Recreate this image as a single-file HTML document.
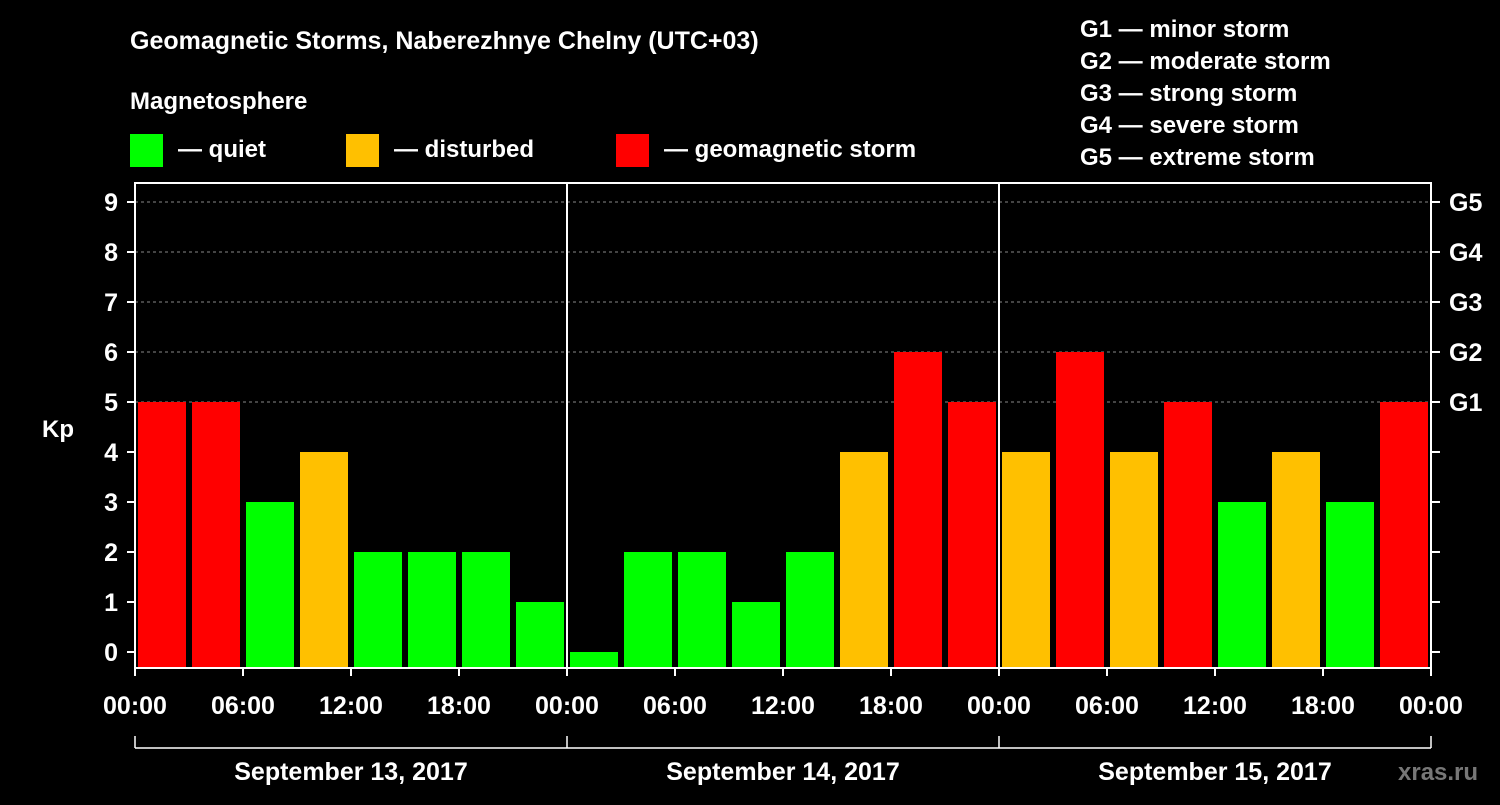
<!DOCTYPE html>
<html><head><meta charset="utf-8"><style>
body{margin:0;background:#000;width:1500px;height:800px;overflow:hidden}
svg text{font-family:"Liberation Sans",Arial,sans-serif;font-weight:bold;fill:#fff}
</style></head><body>
<svg id="chart" width="1500" height="800" xmlns="http://www.w3.org/2000/svg">
<rect width="1500" height="800" fill="#000"/>
<text x="130" y="49" font-size="25">Geomagnetic Storms, Naberezhnye Chelny (UTC+03)</text>
<text x="130" y="109" font-size="24">Magnetosphere</text>
<g><rect x="130" y="134" width="33" height="33" fill="#00ff00"/><text x="178" y="157" font-size="24">— quiet</text></g>
<g><rect x="346" y="134" width="33" height="33" fill="#ffc000"/><text x="394" y="157" font-size="24">— disturbed</text></g>
<g><rect x="616" y="134" width="33" height="33" fill="#ff0000"/><text x="664" y="157" font-size="24">— geomagnetic storm</text></g>
<g font-size="24">
<text x="1080" y="37">G1 — minor storm</text>
<text x="1080" y="69">G2 — moderate storm</text>
<text x="1080" y="101">G3 — strong storm</text>
<text x="1080" y="133">G4 — severe storm</text>
<text x="1080" y="165">G5 — extreme storm</text>
</g>
<g id="grid"></g><g id="bars"></g><g id="axes"></g>
<text x="42" y="437" font-size="24">Kp</text>
<text x="1398" y="780" font-size="24" fill="#777" style="fill:#777">xras.ru</text>
</svg>
<script>
const days=["September 13, 2017","September 14, 2017","September 15, 2017"];
const kpDay1=[5,5,3,4,2,2,2,1];
const kpDay2=[0,2,2,1,2,4,6,5];
const kpDay3=[4,6,4,5,3,4,3,5];
const yTicks=[0,1,2,3,4,5,6,7,8,9];
const gLabels={5:"G1",6:"G2",7:"G3",8:"G4",9:"G5"};
const xLabels=["00:00","06:00","12:00","18:00"];
const NS="http://www.w3.org/2000/svg";
const X0=135,DAYW=432,TOP=183,BOT=668;
const yS=v=>652-50*v;
const xS=(d,h)=>X0+d*DAYW+h*DAYW/24;
function mk(p,t,a){const e=document.createElementNS(NS,t);for(const k in a)e.setAttribute(k,a[k]);p.appendChild(e);return e;}
const grid=document.getElementById('grid'),bars=document.getElementById('bars'),axes=document.getElementById('axes');
[5,6,7,8,9].forEach(v=>{const l=mk(grid,'line',{x1:X0,x2:X0+3*DAYW,y1:yS(v),y2:yS(v),stroke:'#888','stroke-dasharray':'3,3','stroke-width':1});

});
const col=v=>v>=5?'#ff0000':v>=4?'#ffc000':'#00ff00';
[kpDay1,kpDay2,kpDay3].forEach((arr,d)=>arr.forEach((v,i)=>{
const x=xS(d,i*3)+3,y=yS(v);
const r=mk(bars,'rect',{x:x,y:Math.min(y,BOT),width:DAYW/8-6,height:Math.max(0,BOT-y),fill:col(v)});

}));
mk(axes,'rect',{x:X0,y:TOP,width:3*DAYW,height:BOT-TOP,fill:'none',stroke:'#fff','stroke-width':2});
[1,2].forEach(d=>mk(axes,'line',{x1:xS(d,0),x2:xS(d,0),y1:TOP,y2:BOT,stroke:'#fff','stroke-width':2}));
yTicks.forEach(v=>{const y=yS(v);
mk(axes,'line',{x1:X0-8,x2:X0,y1:y,y2:y,stroke:'#fff','stroke-width':2});
mk(axes,'line',{x1:X0+3*DAYW,x2:X0+3*DAYW+9,y1:y,y2:y,stroke:'#fff','stroke-width':2});
const t=mk(axes,'text',{x:X0-17,y:y+9,'font-size':25,'text-anchor':'end'});t.textContent=v;


if(gLabels[v]){const g=mk(axes,'text',{x:1449,y:y+9,'font-size':25});g.textContent=gLabels[v];

}});
for(let d=0;d<3;d++){
xLabels.forEach((lb,i)=>{const x=xS(d,i*6);
mk(axes,'line',{x1:x,x2:x,y1:BOT,y2:BOT+8,stroke:'#fff','stroke-width':2});
const t=mk(axes,'text',{x:x,y:714,'font-size':25,'text-anchor':'middle'});t.textContent=lb;

});
const dt=mk(axes,'text',{x:xS(d,12),y:780,'font-size':25,'text-anchor':'middle'});dt.textContent=days[d];


}
const xe=xS(3,0);mk(axes,'line',{x1:xe,x2:xe,y1:BOT,y2:BOT+8,stroke:'#fff','stroke-width':2});
const te=mk(axes,'text',{x:xe,y:714,'font-size':25,'text-anchor':'middle'});te.textContent="00:00";


mk(axes,'line',{x1:X0,x2:xe,y1:748,y2:748,stroke:'#fff','stroke-width':1.5});
[0,1,2,3].forEach(d=>mk(axes,'line',{x1:xS(d,0),x2:xS(d,0),y1:736,y2:748,stroke:'#fff','stroke-width':1.5}));
</script>
</body></html>
